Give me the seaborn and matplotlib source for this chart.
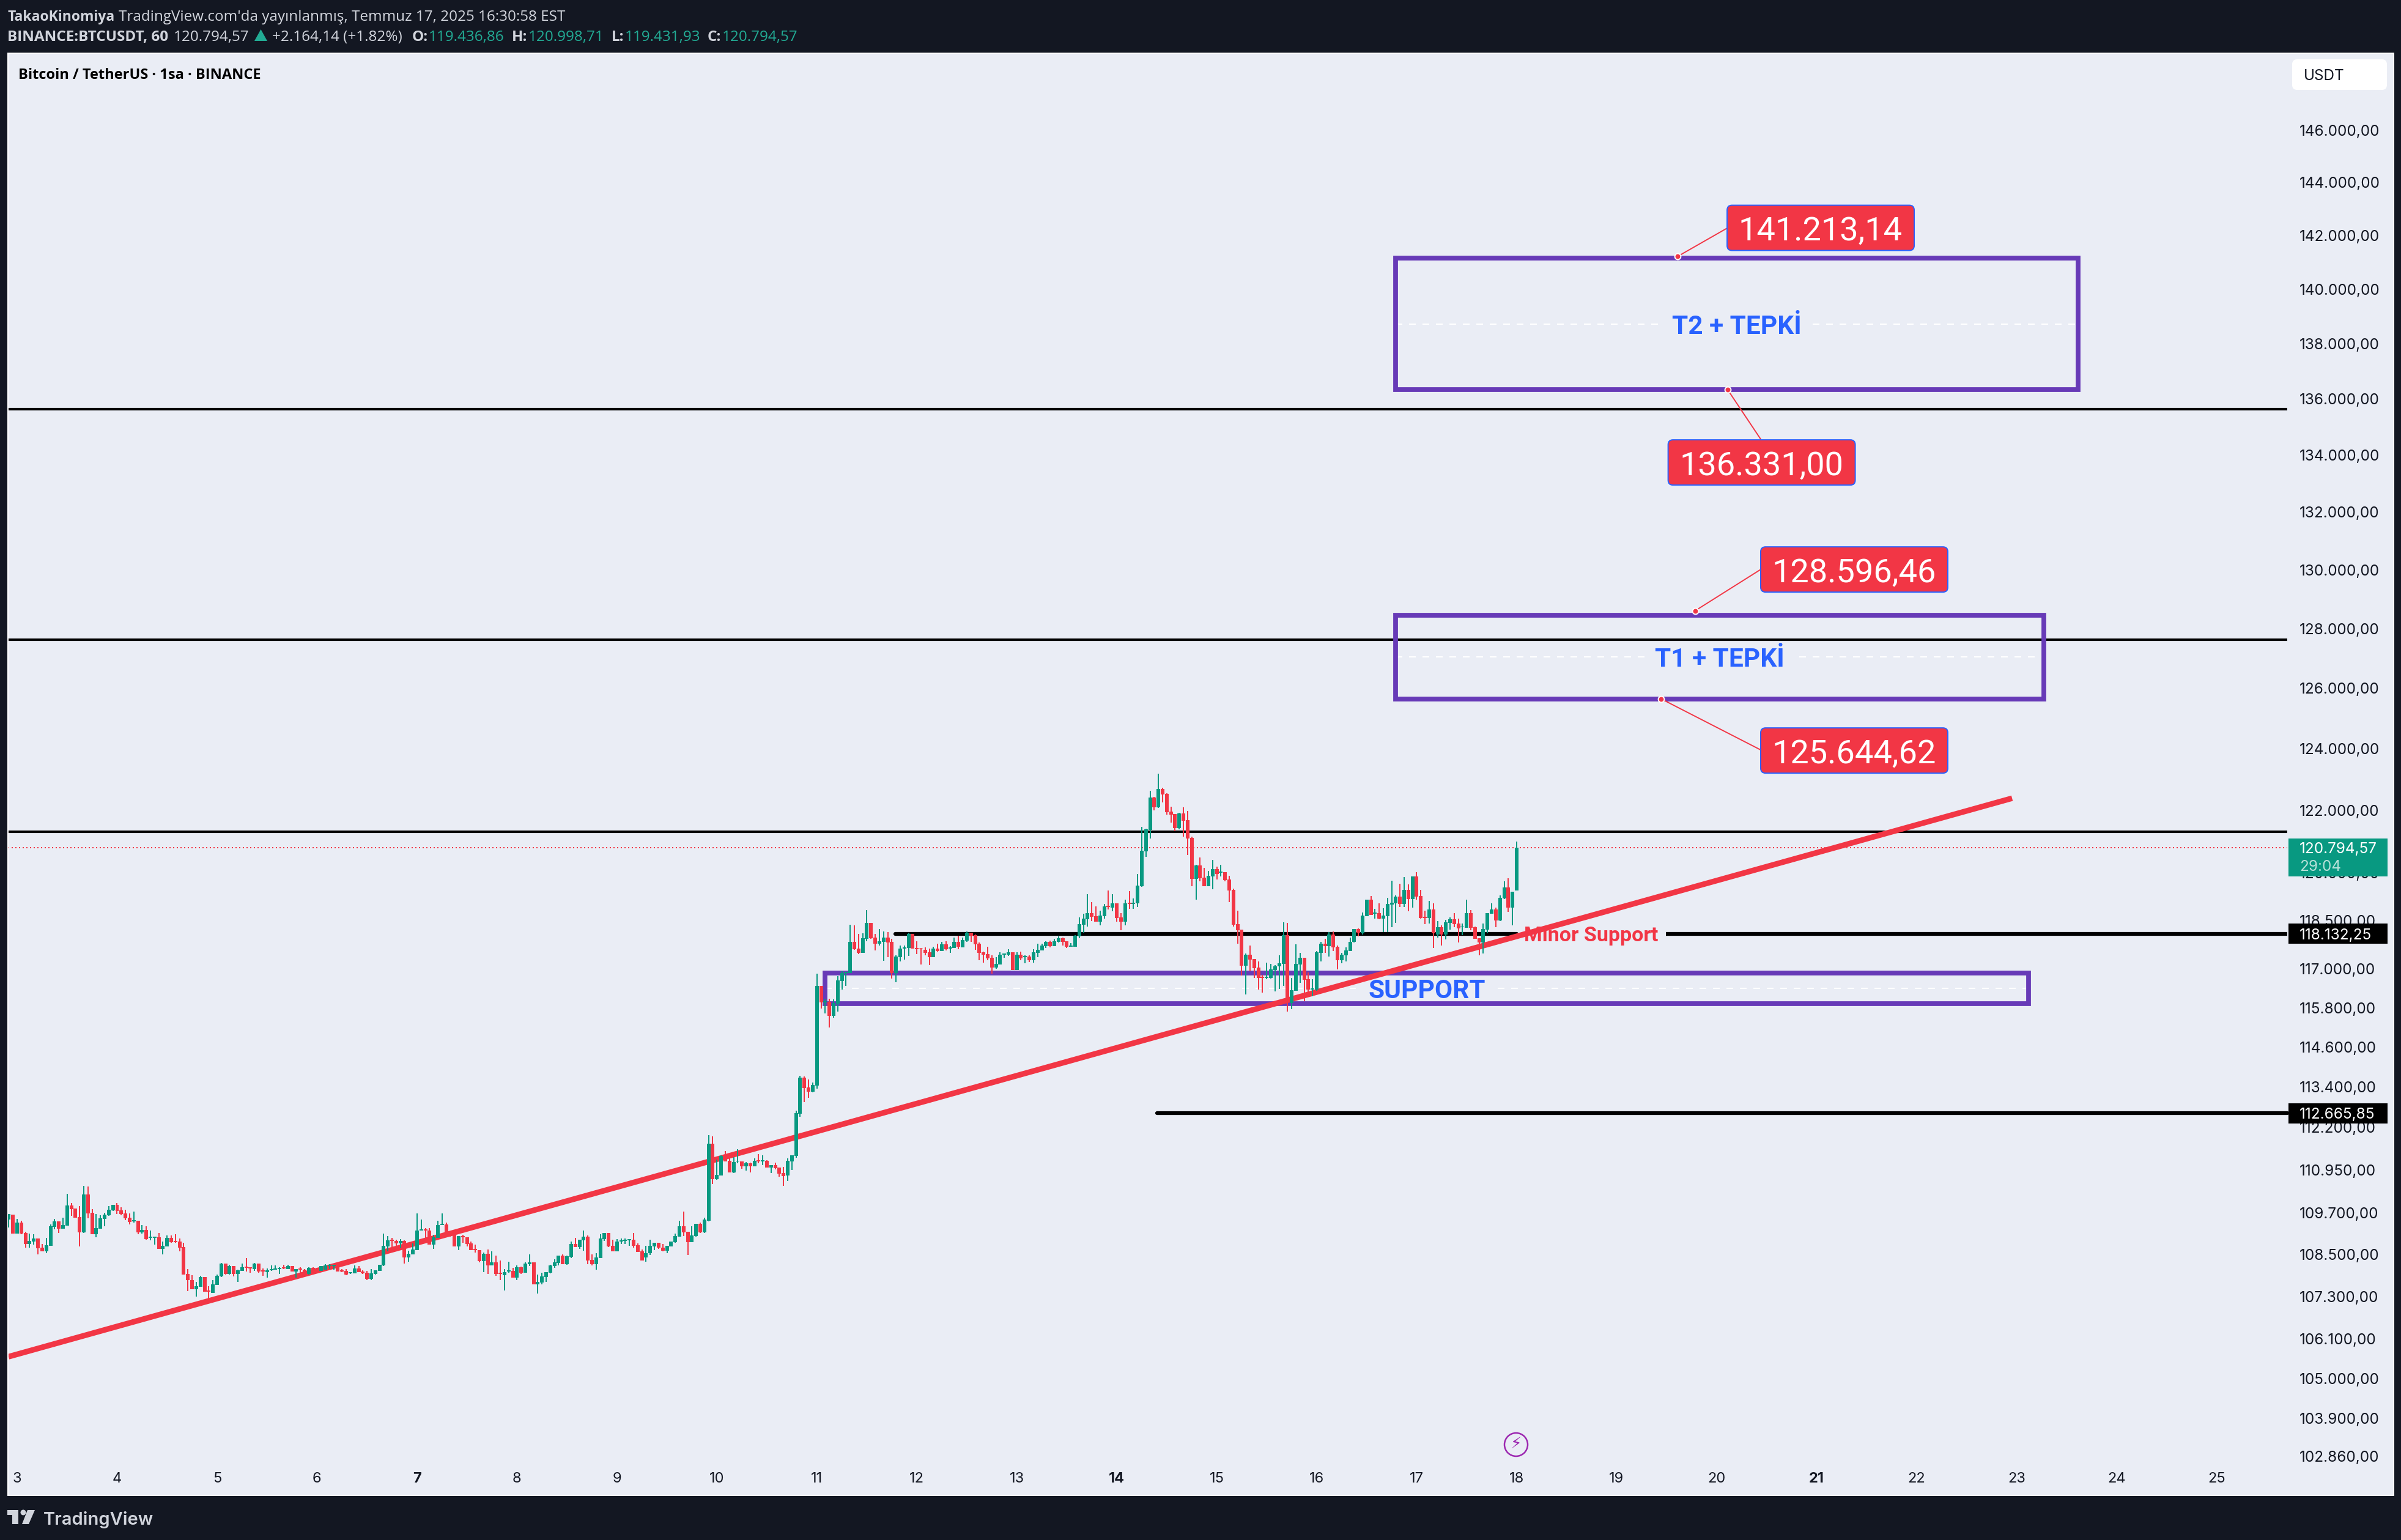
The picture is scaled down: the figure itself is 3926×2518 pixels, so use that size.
import numpy as np
import seaborn as sns
import matplotlib.pyplot as plt
from matplotlib.patches import Rectangle, Polygon, Circle, FancyBboxPatch
from matplotlib.transforms import IdentityTransform
from matplotlib.ticker import NullFormatter

# hourly BTCUSDT candles, 3 Jul (-2h) to 18 Jul
opens = [
    109497,109638,109092,109409,109110,108793,108863,108951,108687,108581,
    108740,109286,109444,109233,109321,109902,109814,109567,109127,110219,
    109691,109074,109233,109515,109620,109761,109920,109761,109673,109550,
    109444,109462,109127,109198,108969,108969,108986,108652,108722,108969,
    108881,108863,108705,107930,107771,107507,107578,107842,107472,107401,
    107630,107859,108229,107930,108159,107930,108018,108141,108124,108071,
    108229,108035,107983,108035,108053,108071,108124,108071,108159,108000,
    108088,108053,107930,108106,108088,108018,108059,
    108159,108159,108165,108035,108018,107947,107947,108088,108000,107965,
    107789,107930,108018,108176,108722,108916,108881,108810,108881,108405,
    108493,108616,109180,109215,109180,108775,108969,109339,109356,109145,
    109057,108722,109022,108986,108810,108652,108616,108300,108511,108176,
    108264,107965,107894,108000,108018,107824,108124,107965,108212,108264,
    107648,107701,107842,107965,108159,108247,108458,108212,108423,108793,
    108705,108898,109004,108335,108212,108388,108934,109110,108740,108581,
    108863,108881,108898,108916,108757,108581,
    108411,108529,108716,108822,108681,108599,108728,108845,109010,109303,
    109139,108845,109022,109374,109127,109467,
    111721,110675,110784,111361,111217,110874,111187,111199,111043,111133,
    111043,111235,111199,111217,111007,111079,111007,110845,110773,111199,
    111361,112605,113686,113380,113254,113434,116475,115967,115986,115554,
    115930,116626,116870,116870,117830,117623,117491,117924,118432,117961,
    117773,117830,117961,117830,116870,117359,117623,117641,118074,117641,
    117623,117585,117510,117359,117623,117547,117754,117623,117641,117830,
    117669,117878,118125,118049,117783,117517,117460,117346,117041,117137,
    117441,117441,117517,116965,117441,117365,117384,117270,117498,117574,
    117707,117840,117707,117840,117954,117859,117688,117688,118011,118373,
    118544,118734,118639,118468,118639,118962,118905,119038,118601,118468,
    119057,119019,119038,119570,120690,121358,122419,122085,122694,122537,
    121947,121869,121417,121888,121672,121122,119805,120238,119845,119570,
    119884,120120,120009,120022,119786,119457,118392,118221,117098,117441,
    117308,117041,116756,116718,116718,116965,117079,
    117156,118049,115938,116319,117137,117346,116680,116357,116357,117498,
    117783,117707,118068,117688,117270,117422,117555,117840,118240,118106,
    118639,119153,118715,118734,118563,118639,119000,119038,119248,119019,
    119457,119172,119884,119267,118620,118582,118848,118062,118297,118062,
    118430,118544,118411,118284,118278,118734,118297,117954,117821,118221,
    118715,118848,118506,119191,119533,118905,119436.86,
]
highs = [
    109656,109638,109515,109462,109145,109092,109074,108951,108793,108969,
    109356,109515,109444,109550,110237,109973,109814,109884,110483,110466,
    109796,109656,109620,109691,109884,109920,109973,109849,109779,109673,
    109726,109462,109339,109303,109180,109004,109110,108863,109039,109039,
    109074,108951,108828,108071,107894,107718,107877,107842,107595,107771,
    107912,108247,108229,108194,108159,108053,108229,108388,108124,108247,
    108229,108088,108088,108176,108176,108124,108194,108194,108159,108071,
    108124,108071,108124,108124,108106,108159,108212,
    108212,108194,108176,108071,108071,107983,108176,108159,108035,108018,
    108071,108035,108194,109092,109022,108969,108916,108934,108898,108599,
    108810,109673,109497,109250,109250,109057,109462,109673,109409,109145,
    109057,109022,109057,108986,108863,108775,108616,108546,108634,108581,
    108458,108317,108071,108282,108106,108176,108141,108264,108493,108264,
    107912,107965,107983,108194,108352,108458,108493,108458,108863,108969,
    108916,109180,109039,108493,108529,109074,109110,109110,108916,108934,
    108951,108951,108934,109110,108810,108634,
    108734,108910,108834,108834,108793,108734,108857,109086,109468,109738,
    109139,109303,109374,109409,109550,111973,
    111937,111253,111379,111505,111289,111325,111559,111199,111169,111151,
    111289,111415,111379,111235,111079,111151,111007,111025,111289,111379,
    112695,113740,113722,113632,113542,116851,116475,116080,116080,116061,
    116776,116927,116908,118375,118356,118074,118093,118827,118432,118074,
    118225,118149,118131,117924,117416,117717,117717,118112,118074,117848,
    117641,117660,117623,117679,117773,117830,117848,117698,117961,118018,
    117973,118163,118125,118068,117821,117536,117688,117422,117365,117517,
    117479,117612,117517,117517,117536,117422,117422,117612,117783,117783,
    117859,117878,117935,118011,117973,117859,117802,118049,118601,118715,
    119324,119076,118943,118810,119019,119438,119324,119038,118734,119153,
    119419,119191,119963,121456,121397,122635,122439,123185,122733,122556,
    122105,121869,121908,122085,121967,121142,120257,120493,120159,120061,
    120415,120198,120257,120022,119904,119495,118810,118221,117479,117726,
    117308,117232,116813,117194,117156,117117,117422,
    118449,118430,116718,117764,117498,117346,116889,116680,117555,117840,
    117935,118144,118163,117726,117498,117669,117973,118240,118259,118753,
    119153,119267,118867,119038,118886,119203,119747,119286,119648,119864,
    119628,119884,120022,119457,118810,119115,119038,118487,118354,118525,
    118601,118734,118563,118411,119153,118829,118316,117954,118411,118734,
    119038,118905,119286,119727,119825,119400,120998.71,
]
lows = [
    109268,109092,109092,109074,108687,108687,108775,108493,108581,108529,
    108740,109215,109110,109233,109321,109603,109550,108722,109110,109532,
    109074,108986,109233,109303,109603,109744,109656,109620,109479,109356,
    109409,109074,109092,108916,108898,108775,108652,108493,108722,108828,
    108828,108581,107912,107454,107507,107296,107578,107437,107225,107401,
    107630,107842,107912,107912,107859,107718,108018,108000,107965,108018,
    107965,107877,107824,108018,108053,107930,108071,108071,108000,107824,
    107959,107912,107912,108000,108030,108018,108059,
    108076,108059,108000,107983,107894,107930,107947,107983,107930,107771,
    107754,107912,108018,108159,108581,108705,108740,108687,108229,108282,
    108493,108616,109180,108969,108775,108652,108969,109339,109116,109004,
    108722,108616,108828,108722,108616,108546,108264,107983,107930,108176,
    107877,107771,107472,107965,107824,107754,107930,107965,108159,107648,
    107384,107648,107718,107947,108106,108176,108212,108194,108388,108705,
    108652,108599,108212,108176,108053,108388,108881,108705,108581,108581,
    108793,108793,108740,108687,108564,108317,
    108294,108470,108617,108658,108587,108529,108716,108834,108998,109027,
    108482,108845,109010,109116,109116,109449,
    110531,110657,110784,111199,110874,110856,111133,110971,110923,110874,
    111043,111133,111079,111007,110845,110953,110737,110477,110621,110947,
    111307,112515,112947,113073,113236,113344,115779,115629,115196,115497,
    115685,116362,116475,116870,117585,117453,117491,117848,117924,117566,
    117717,117246,117359,116701,116588,117228,117284,117397,117623,117453,
    117134,117416,117115,117359,117529,117547,117566,117491,117641,117604,
    117669,117840,117840,117593,117270,117194,117270,116851,117003,117137,
    117346,117403,116965,116965,117270,117175,117213,117194,117365,117574,
    117650,117669,117707,117821,117726,117650,117688,117688,117954,118125,
    118316,118487,118468,118354,118563,118848,118791,118468,118202,118354,
    118867,118867,118924,119552,120513,121102,121987,122065,122262,121849,
    121594,121319,121377,121161,120572,119570,119153,119727,119570,119570,
    119476,119786,119884,119727,119076,118316,117783,116794,116205,116927,
    116718,116357,116262,116680,116699,116300,116376,
    116477,115691,115748,116319,116572,115995,116224,116147,116319,117232,
    117498,117384,117555,116984,117175,117232,117555,117821,118011,118068,
    118639,118677,118563,118544,118144,118144,118297,118430,118924,118924,
    118791,118905,119153,118563,118392,118411,117650,117973,117726,117916,
    118221,118297,117821,118049,118278,118202,117935,117422,117479,118106,
    118715,118297,118487,119172,118772,118354,119431.93,
]
closes = [
    109656,109092,109409,109092,108793,108881,108951,108669,108581,108757,
    109303,109444,109233,109339,109902,109796,109550,109127,110219,109673,
    109074,109251,109532,109638,109779,109920,109744,109656,109532,109427,
    109479,109127,109198,108934,109004,109004,108652,108740,108969,108845,
    108845,108687,107912,107754,107507,107595,107842,107437,107437,107648,
    107877,108229,107930,108159,107930,108035,108124,108106,108088,108229,
    108000,108000,108035,108071,108088,108106,108088,108159,108000,108071,
    108053,107912,108106,108018,108030,108159,108176,
    108194,108194,108000,108000,107912,107983,108088,107983,107947,107789,
    107947,108035,108194,108740,108898,108881,108810,108881,108405,108511,
    108634,109180,109215,109180,108775,108986,109339,109374,109116,109022,
    108722,109022,108986,108793,108616,108616,108300,108511,108176,108264,
    107930,107930,107983,108035,107824,108124,107965,108229,108264,107648,
    107718,107859,107983,108176,108264,108458,108212,108440,108793,108705,
    108916,109004,108317,108212,108405,108951,109110,108722,108581,108863,
    108898,108916,108934,108740,108564,108317,
    108529,108734,108822,108693,108599,108734,108857,109016,109303,109127,
    108845,109033,109374,109127,109491,111721,
    110675,110802,111361,111199,110874,111169,111217,111043,111133,111043,
    111217,111199,111235,111007,111079,110989,110827,110755,111217,111379,
    112623,113686,113362,113254,113452,116475,115967,116005,115554,115949,
    116645,116870,116908,117830,117604,117491,117942,118432,117942,117773,
    117848,117961,117811,116870,117378,117623,117660,118074,117623,117604,
    117598,117491,117359,117623,117547,117754,117604,117660,117830,117679,
    117897,118125,118030,117764,117498,117441,117327,117041,117156,117441,
    117479,117517,116965,117441,117327,117403,117270,117517,117593,117726,
    117840,117707,117859,117954,117840,117688,117726,118030,118392,118563,
    118734,118620,118468,118658,118943,118924,119038,118582,118468,119038,
    119019,119057,119589,120709,121377,122419,122085,122694,122517,121928,
    121849,121417,121888,121653,121102,119805,120238,119825,119570,119904,
    120120,119963,120041,119766,119438,118373,118202,117098,117441,117289,
    117022,116718,116718,116756,116984,117079,117175,
    118049,116033,116338,117156,117346,116661,116357,116395,117517,117783,
    117707,118068,117669,117270,117441,117574,117840,118240,118125,118658,
    119153,118677,118753,118563,118658,119019,119057,119248,119019,119457,
    119172,119884,119248,118582,118582,118848,118094,118297,118062,118449,
    118544,118392,118259,118316,118734,118278,117935,117821,118240,118734,
    118848,118506,119210,119533,118905,119400,120794.57,
]

# price scale and day labels
price_ticks = [146000, 144000, 142000, 140000, 138000, 136000, 134000, 132000,
               130000, 128000, 126000, 124000, 122000, 120000, 118500, 117000,
               115800, 114600, 113400, 112200, 110950, 109700, 108500, 107300,
               106100, 105000, 103900, 102860]
day_ticks = list(range(3, 26))
bold_days = [7, 14, 21]

# drawn levels
trend_days = [2.914, 22.956]
trend_prices = [105604, 122387]
long_levels = [135631, 127627, 121306]
minor_level = 118080
lower_level = 112620
last_price = 120794.57

t2_prices = [136331.00, 141150]
t1_prices = [125644.62, 128440]
support_prices = [115923, 116863]
callout_texts = ["141.213,14", "136.331,00", "128.596,46", "125.644,62"]
callout_values = [141213.14, 136331.00, 128596.46, 125644.62]
callout_days = [19.609, 20.111, 19.784, 19.444]
callout_box_days = [21.041, 20.451, 21.377, 21.377]
callout_box_prices = [142286, 133738, 130010, 123940]
leader_end_days = [20.105, 20.441, 20.441, 20.441]
leader_end_prices = [142274, 134563, 130010, 123960]

W, H = 3926, 2518
DARK = "#131722"
PANEL = "#EAEDF5"
GREEN = "#089981"
RED = "#F23645"
PURPLE = "#673AB7"
BLUE = "#2962FF"
LIGHT = "#D1D4DC"

sns.set_theme(style="white")
plt.rcParams["font.family"] = ["Inter", "DejaVu Sans"]

fig = plt.figure(figsize=(W / 100, H / 100), dpi=100, facecolor=DARK)
ax = fig.add_axes([13 / W, 1 - 2445 / H, 3901 / W, 2358 / H], facecolor=PANEL)
ax.set_yscale("log")

n = len(closes)
days = 3 + (np.arange(n) - 2) / 24
o, h, l, c = map(np.array, (opens, highs, lows, closes))
colors = np.where(c >= o, GREEN, RED)

ax.vlines(days, l, h, colors=colors, linewidth=1.44, zorder=4)
ax.bar(days, np.abs(c - o), bottom=np.minimum(o, c), width=0.0367, color=colors,
       linewidth=0, zorder=4.1)


def segment(x0, x1, y, color, lw, z, **kw):
    sns.lineplot(x=[x0, x1], y=[y, y], ax=ax, color=color, linewidth=lw, zorder=z,
                 estimator=None, **kw)


LEFT, RIGHT, LINE_END = 2.908, 26.773, 25.708
for level in long_levels:
    segment(LEFT, LINE_END, level, "black", 3, 1.6, solid_capstyle="butt")
segment(11.785, 18.0, minor_level, "black", 4.5, 1.6)
segment(19.493, LINE_END, minor_level, "black", 4.5, 1.6, solid_capstyle="butt")
segment(14.403, LINE_END, lower_level, "black", 4.5, 1.6)
segment(LEFT, LINE_END, last_price, RED, 1.44, 1.7, linestyle=(0, (1, 2)))

# zones with their dashed middle lines
zones = [(16.789, 23.617, t2_prices, (19.414, 20.962)),
         (16.789, 23.274, t1_prices, (19.285, 20.827)),
         (11.082, 23.121, support_prices, (16.391, 17.811))]
for x0, x1, (lo, hi), (gap0, gap1) in zones:
    mid = np.sqrt(lo * hi)
    segment(x0, gap0, mid, "white", 1.44, 1.65, linestyle=(0, (5.5, 5.5)))
    segment(gap1, x1, mid, "white", 1.44, 1.65, linestyle=(0, (5.5, 5.5)))
    ax.add_patch(Rectangle((x0, lo), x1 - x0, hi - lo, fill=False, edgecolor=PURPLE,
                           linewidth=5.6, zorder=2, joinstyle="miter"))

sns.lineplot(x=trend_days, y=trend_prices, ax=ax, color=RED, linewidth=6.6, zorder=2.5,
             estimator=None, solid_capstyle="butt")

for tx, ty, s in [(20.203, np.sqrt(t2_prices[0] * t2_prices[1]), "T2 + TEPKİ"),
                  (20.032, np.sqrt(t1_prices[0] * t1_prices[1]), "T1 + TEPKİ"),
                  (17.101, np.sqrt(support_prices[0] * support_prices[1]), "SUPPORT")]:
    ax.text(tx, ty, s, color=BLUE, fontsize=30.5, fontweight="bold", family="Roboto",
            ha="center", va="center_baseline", zorder=1.8)
ax.text(18.074, minor_level, "Minor Support", color=RED, fontsize=24.5, fontweight="bold",
        family="Roboto", ha="left", va="center_baseline", zorder=1.8)

# price tags
TAG_X, TAG_W, TEXT_X = 25.721, 0.991, 25.831
tags = [(119884, 121089, GREEN), (117771, 118400, "black"), (112309, 112909, "black")]
for lo, hi, col in tags:
    ax.add_patch(Rectangle((TAG_X, lo), TAG_W, hi - lo, facecolor=col, linewidth=0, zorder=6))
ax.text(TEXT_X, 120800, "120.794,57", color="white", fontsize=17.5, va="center_baseline", zorder=7)
ax.text(TEXT_X, 120230, "29:04", color="#B5E0D8", fontsize=17.5, va="center_baseline", zorder=7)
ax.text(TEXT_X, 118080, "118.132,25", color="white", fontsize=17.5, va="center_baseline", zorder=7)
ax.text(TEXT_X, 112620, "112.665,85", color="white", fontsize=17.5, va="center_baseline", zorder=7)

ax.set_xlim(LEFT, RIGHT)
ax.set_ylim(101806, 149003)
ax.set_xlabel("")
ax.set_ylabel("")
ax.grid(False)

# callouts
px = IdentityTransform()
sns.scatterplot(x=callout_days, y=callout_values, ax=ax, s=50, color=RED, edgecolor="white",
                linewidth=1.4, zorder=5)
for i, txt in enumerate(callout_texts):
    sns.lineplot(x=[callout_days[i], leader_end_days[i]], y=[callout_values[i], leader_end_prices[i]],
                 ax=ax, color=RED, linewidth=1.4, zorder=4.9, estimator=None, sort=False)
    cx, cy = ax.transData.transform((callout_box_days[i], callout_box_prices[i]))
    ax.add_artist(FancyBboxPatch((cx - 147, cy - 31), 294, 62, boxstyle="round,pad=6,rounding_size=8",
                                 transform=px, fc=RED, ec=BLUE, lw=1.4, zorder=5.2))
    ax.text(callout_box_days[i], callout_box_prices[i], txt, color="white", fontsize=39, family="Roboto",
            ha="center", va="center_baseline", zorder=5.5)
ax.set_xlim(LEFT, RIGHT)
ax.set_ylim(101806, 149003)

ax.yaxis.tick_right()
ax.set_yticks(price_ticks)
ax.set_yticklabels([f"{p:,.2f}".replace(",", "X").replace(".", ",").replace("X", ".") for p in price_ticks])
ax.yaxis.set_minor_formatter(NullFormatter())
ax.tick_params(axis="y", which="both", length=0, pad=-110.9, labelsize=17.5, labelcolor="#131722")
ax.set_xticks(day_ticks)
ax.set_xticklabels([str(d) for d in day_ticks])
ax.tick_params(axis="x", length=0, pad=-27, labelsize=17, labelcolor="#131722")
for lab, d in zip(ax.get_xticklabels(), day_ticks):
    if d in bold_days:
        lab.set_fontweight("bold")

for side in ax.spines.values():
    side.set_color("white")
    side.set_linewidth(1.44)


def label(x, y, s, color=LIGHT, weight="normal", size=17.5, family="Open Sans"):
    fig.text(x / W, 1 - y / H, s, color=color, fontweight=weight, fontsize=size, family=family,
             ha="left", va="center_baseline")


# header
label(12.5, 25, "TakaoKinomiya", weight="bold", size=16.5)
label(194, 25, "TradingView.com'da yayınlanmış, Temmuz 17, 2025 16:30:58 EST")
label(12.5, 58, "BINANCE:BTCUSDT, 60", weight="bold")
label(284, 58, "120.794,57")
label(445, 58, "+2.164,14 (+1.82%)")
for x, s, vx, val in [(674, "O:", 701, "119.436,86"), (837, "H:", 864, "120.998,71"),
                      (1000, "L:", 1022, "119.431,93"), (1157, "C:", 1181, "120.794,57")]:
    label(x, 58, s, weight="bold")
    label(vx, 58, val, color="#22AB94")
label(30, 120, "Bitcoin / TetherUS · 1sa · BINANCE", color="black", weight="bold", size=17)

fig.add_artist(Polygon([(416, H - 67), (437, H - 67), (426.5, H - 48)], transform=px, fc="#22AB94", lw=0))

# USDT button
fig.add_artist(FancyBboxPatch((3754, H - 141), 143, 38, boxstyle="round,pad=6,rounding_size=8",
                              transform=px, fc="white", ec="none"))
label(3767, 122, "USDT", color="#131722", size=17.5, family="Inter")

# lightning marker on the time axis
fig.add_artist(Circle((2479, H - 2362), 19, transform=px, fc=PANEL, ec="#9C27B0", lw=1.8))
fig.text(2479 / W, 1 - 2362 / H, "⚡", color="#9C27B0", fontsize=19, family="DejaVu Sans",
         ha="center", va="center")

# footer logo
fig.add_artist(Polygon([(12, H - 2469), (30, H - 2469), (30, H - 2492), (20, H - 2492), (20, H - 2477), (12, H - 2477)],
                       transform=px, fc=LIGHT, lw=0))
fig.add_artist(Circle((38, H - 2473), 4.5, transform=px, fc=LIGHT, lw=0))
fig.add_artist(Polygon([(45, H - 2469), (57, H - 2469), (47, H - 2492), (36, H - 2492)], transform=px, fc=LIGHT, lw=0))
label(71, 2482, "TradingView", size=21, weight="semibold", family="Inter")

fig.savefig("out.png", dpi=100, facecolor=DARK)
